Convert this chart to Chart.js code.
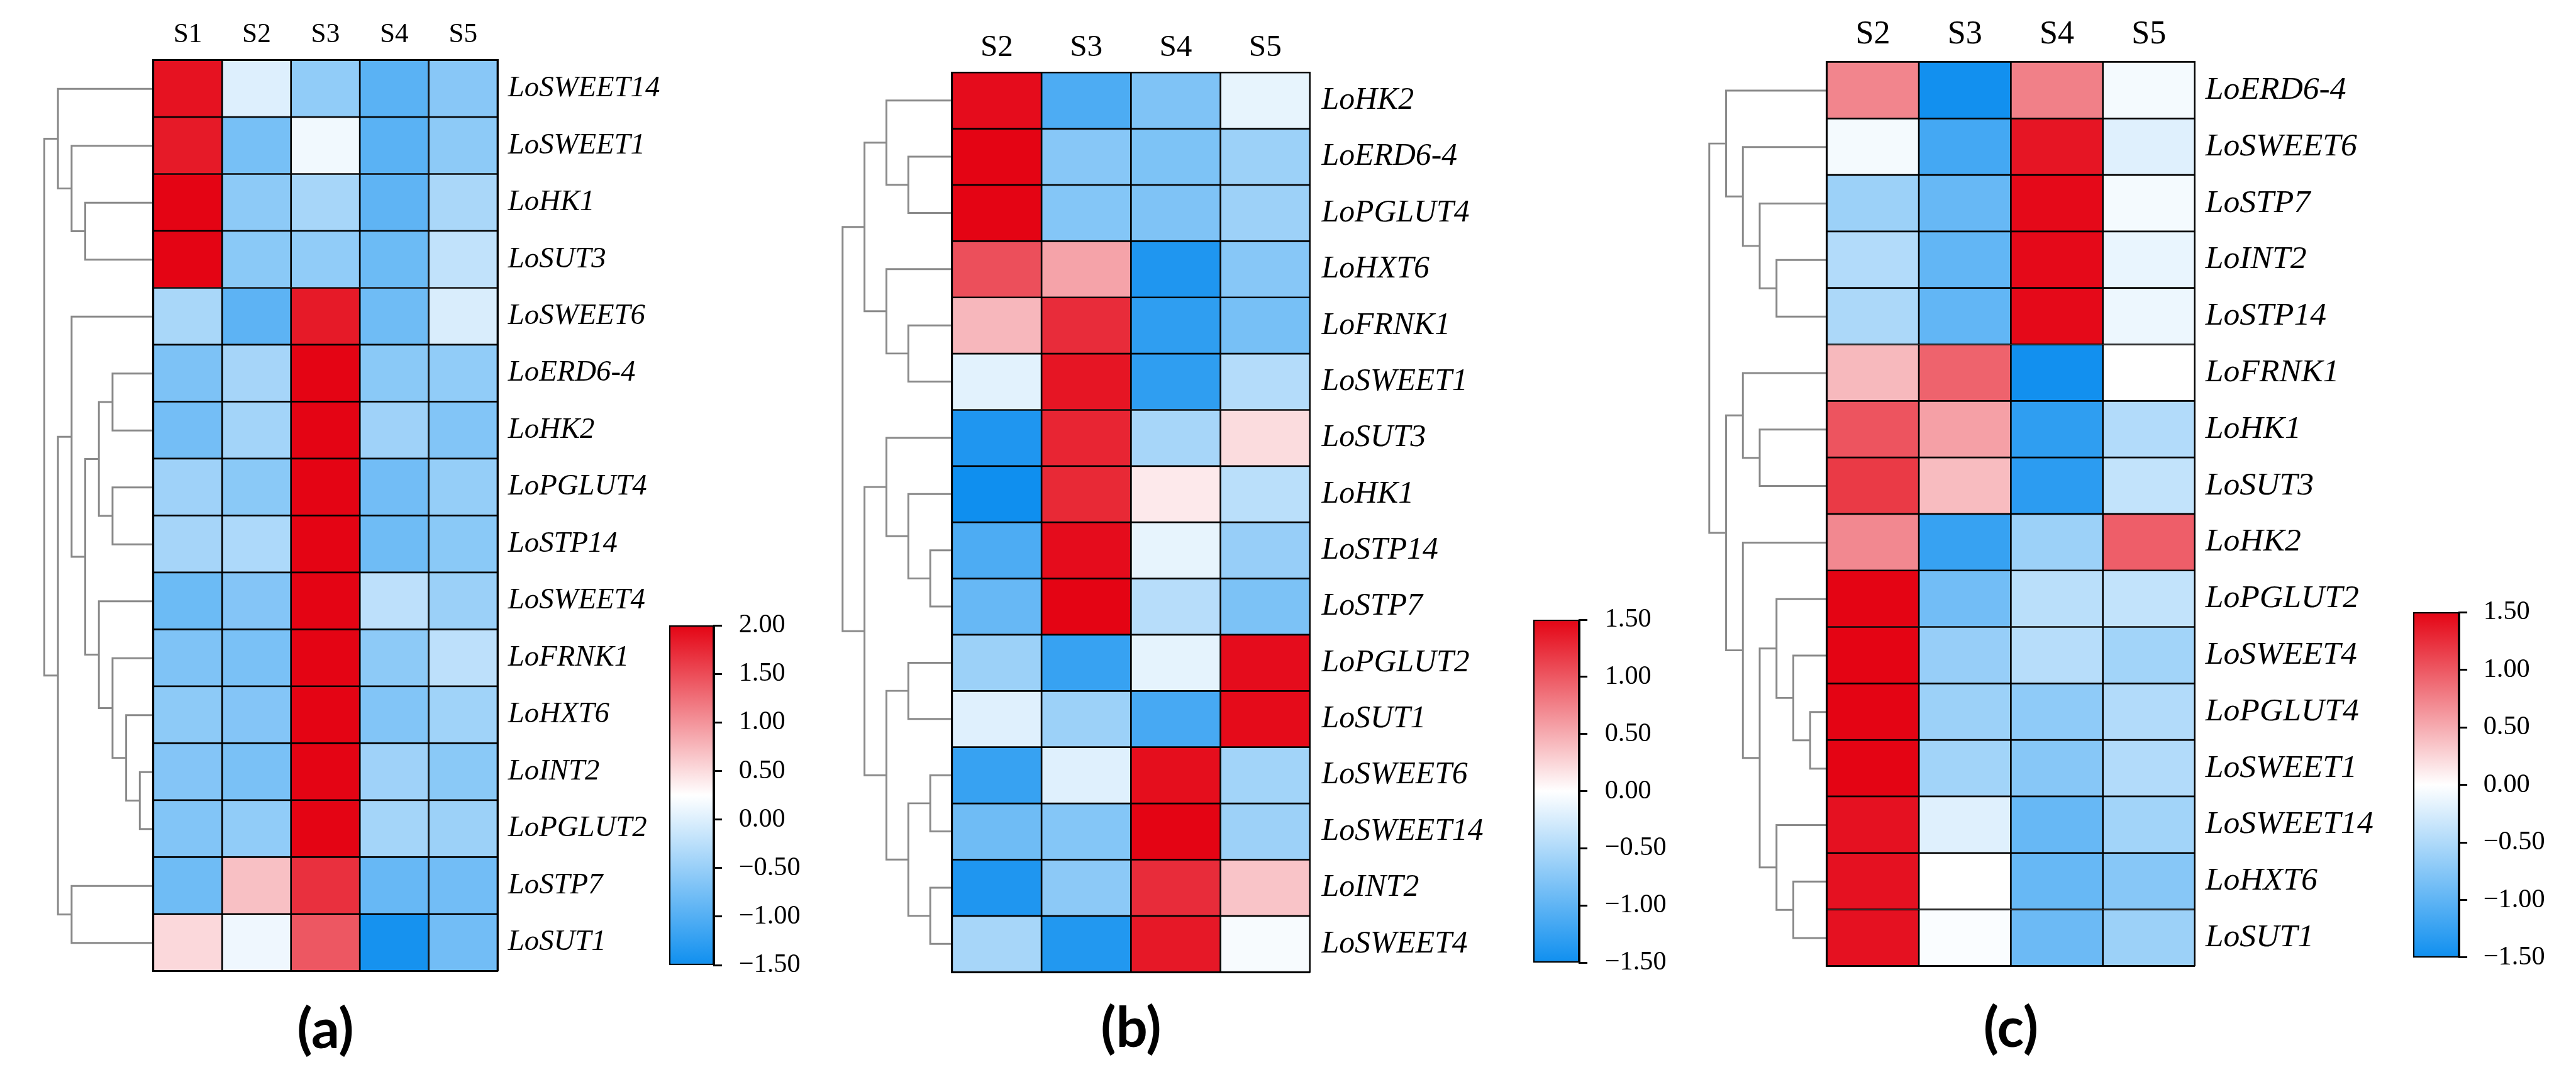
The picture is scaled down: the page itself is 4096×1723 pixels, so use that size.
<!DOCTYPE html>
<html>
<head>
<meta charset="utf-8">
<script src="https://cdn.jsdelivr.net/npm/chart.js@4.4.1/dist/chart.umd.min.js"></script>
<style>
  html, body { margin: 0; padding: 0; background: #fff; }
  #fig { position: relative; width: 4096px; height: 1723px; overflow: hidden; background: #fff; }
  #fig canvas { position: absolute; }
</style>
</head>
<body>
<div id="fig"></div>
<script>
// ---------- panel (a) ----------
var samplesA = ['S1', 'S2', 'S3', 'S4', 'S5'];
var genesA = ['LoSWEET14', 'LoSWEET1', 'LoHK1', 'LoSUT3', 'LoSWEET6', 'LoERD6-4', 'LoHK2', 'LoPGLUT4',
              'LoSTP14', 'LoSWEET4', 'LoFRNK1', 'LoHXT6', 'LoINT2', 'LoPGLUT2', 'LoSTP7', 'LoSUT1'];
var valuesA = [
    [1.90, 0.00, -0.55, -0.95, -0.62],
    [1.85, -0.74, 0.15, -0.95, -0.58],
    [2.00, -0.58, -0.39, -0.92, -0.37],
    [2.00, -0.60, -0.55, -0.82, -0.20],
    [-0.38, -0.93, 1.85, -0.80, -0.03],
    [-0.70, -0.40, 2.00, -0.60, -0.55],
    [-0.76, -0.42, 2.00, -0.45, -0.66],
    [-0.45, -0.60, 2.00, -0.78, -0.52],
    [-0.40, -0.35, 2.00, -0.80, -0.60],
    [-0.82, -0.65, 2.00, -0.23, -0.48],
    [-0.68, -0.72, 2.00, -0.58, -0.23],
    [-0.58, -0.65, 2.00, -0.66, -0.44],
    [-0.65, -0.72, 2.00, -0.45, -0.60],
    [-0.66, -0.55, 2.00, -0.41, -0.47],
    [-0.80, 0.69, 1.69, -0.86, -0.78],
    [0.52, 0.13, 1.42, -1.45, -0.78]
];
// dendrogram merges: [node, node, height level]; new nodes numbered from 16
var treeA = [[2, 3, 5], [1, 16, 6], [0, 17, 7], [5, 6, 3], [7, 8, 3], [19, 20, 4], [12, 13, 1],
             [11, 22, 2], [10, 23, 3], [9, 24, 4], [21, 25, 5], [4, 26, 6], [14, 15, 6], [27, 28, 7], [18, 29, 8]];
var rangeA = [-1.5, 2.0];

// ---------- panel (b) ----------
var samplesB = ['S2', 'S3', 'S4', 'S5'];
var genesB = ['LoHK2', 'LoERD6-4', 'LoPGLUT4', 'LoHXT6', 'LoFRNK1', 'LoSWEET1', 'LoSUT3', 'LoHK1',
              'LoSTP14', 'LoSTP7', 'LoPGLUT2', 'LoSUT1', 'LoSWEET6', 'LoSWEET14', 'LoINT2', 'LoSWEET4'];
var valuesB = [
    [1.45, -1.11, -0.80, -0.15],
    [1.50, -0.75, -0.81, -0.62],
    [1.50, -0.77, -0.80, -0.61],
    [1.05, 0.55, -1.40, -0.75],
    [0.43, 1.26, -1.30, -0.85],
    [-0.18, 1.40, -1.30, -0.47],
    [-1.40, 1.30, -0.55, 0.21],
    [-1.50, 1.28, 0.13, -0.43],
    [-1.11, 1.45, -0.15, -0.65],
    [-0.95, 1.50, -0.45, -0.82],
    [-0.62, -1.25, -0.16, 1.45],
    [-0.20, -0.62, -1.15, 1.46],
    [-1.25, -0.20, 1.44, -0.58],
    [-0.90, -0.77, 1.50, -0.61],
    [-1.40, -0.72, 1.26, 0.35],
    [-0.55, -1.38, 1.38, -0.05]
];
var treeB = [[1, 2, 2], [0, 16, 3], [4, 5, 2], [3, 18, 3], [17, 19, 4], [8, 9, 1], [7, 21, 2], [6, 22, 3],
             [10, 11, 2], [12, 13, 1], [14, 15, 1], [25, 26, 2], [24, 27, 3], [23, 28, 4], [20, 29, 5]];
var rangeB = [-1.5, 1.5];

// ---------- panel (c) ----------
var samplesC = ['S2', 'S3', 'S4', 'S5'];
var genesC = ['LoERD6-4', 'LoSWEET6', 'LoSTP7', 'LoINT2', 'LoSTP14', 'LoFRNK1', 'LoHK1', 'LoSUT3',
              'LoHK2', 'LoPGLUT2', 'LoSWEET4', 'LoPGLUT4', 'LoSWEET1', 'LoSWEET14', 'LoHXT6', 'LoSUT1'];
var valuesC = [
    [0.73, -1.48, 0.76, -0.07],
    [-0.07, -1.17, 1.40, -0.20],
    [-0.62, -0.95, 1.47, -0.07],
    [-0.48, -0.98, 1.47, -0.14],
    [-0.52, -0.98, 1.47, -0.11],
    [0.42, 0.93, -1.48, 0.00],
    [1.02, 0.57, -1.30, -0.48],
    [1.18, 0.40, -1.32, -0.38],
    [0.71, -1.25, -0.62, 0.96],
    [1.50, -0.88, -0.43, -0.38],
    [1.50, -0.65, -0.45, -0.58],
    [1.50, -0.62, -0.70, -0.48],
    [1.50, -0.58, -0.75, -0.48],
    [1.42, -0.20, -0.95, -0.58],
    [1.42, 0.00, -0.95, -0.75],
    [1.42, -0.03, -0.92, -0.62]
];
var treeC = [[3, 4, 3], [2, 16, 4], [1, 17, 5], [0, 18, 6], [6, 7, 4], [5, 20, 5], [11, 12, 1], [10, 22, 2],
             [9, 23, 3], [14, 15, 2], [13, 25, 3], [24, 26, 4], [8, 27, 5], [21, 28, 6], [19, 29, 7]];
var rangeC = [-1.5, 1.5];

var tags = ['(a)', '(b)', '(c)'];

// ---------- layout (reference pixels, scaled by S) ----------
var S = 0.985;
var panels = [
    { samples: samplesA, genes: genesA, values: valuesA, tree: treeA, range: rangeA, tag: tags[0],
      L: 248, R: 803, T: 97, B: 1567, canvasL: 238, canvasR: 1070, dendroL: 60, step: 22.04,
      colFont: 44, colPad: 14, rowFont: 47.5, rowPad: 17, tagDy: 96,
      cbar: { L: 1080, R: 1152, T: 996, B: 1570, pad: 27 } },
    { samples: samplesB, genes: genesB, values: valuesB, tree: treeB, range: rangeB, tag: tags[1],
      L: 1537, R: 2115, T: 117, B: 1569, canvasL: 1527, canvasR: 2440, dendroL: 1345, step: 35.4,
      colFont: 50, colPad: 10, rowFont: 50.5, rowPad: 19, tagDy: 92,
      cbar: { L: 2475, R: 2549, T: 986, B: 1567, pad: 28 } },
    { samples: samplesC, genes: genesC, values: valuesC, tree: treeC, range: rangeC, tag: tags[2],
      L: 2949, R: 3543, T: 100, B: 1559, canvasL: 2939, canvasR: 3870, dendroL: 2745, step: 27.14,
      colFont: 53, colPad: 12, rowFont: 52.5, rowPad: 17, tagDy: 102,
      cbar: { L: 3895, R: 3969, T: 976, B: 1557, pad: 26 } }
];
var TAG_FONT = 90;
var CBAR_FONT = 43;

Chart.defaults.font.family = "'Liberation Serif', 'Times New Roman', serif";
Chart.defaults.color = '#000';

var BLUE = [15, 143, 239], WHITE = [255, 255, 255], RED = [228, 4, 20];
function heatColor(v, range) {
    var t = (v - range[0]) / (range[1] - range[0]);
    t = Math.max(0, Math.min(1, t));
    var a = t < 0.5 ? BLUE : WHITE, b = t < 0.5 ? WHITE : RED;
    var f = t < 0.5 ? t / 0.5 : (t - 0.5) / 0.5;
    return 'rgb(' + a.map(function (c, i) { return Math.round(c + (b[i] - c) * f); }).join(',') + ')';
}

var fig = document.getElementById('fig');
function makeCanvas(x, y, w, h) {
    var c = document.createElement('canvas');
    var W = Math.round(w * S), H = Math.round(h * S);
    c.width = W; c.height = H;
    c.style.left = Math.round(x * S) + 'px';
    c.style.top = Math.round(y * S) + 'px';
    c.style.width = W + 'px';
    c.style.height = H + 'px';
    fig.appendChild(c);
    return c;
}

var frame = { display: true, color: '#000', width: 3 * S };
var noGrid = { display: false, drawTicks: false };
var quiet = { legend: { display: false }, tooltip: { enabled: false } };

function drawHeatmap(p) {
    var bottomH = (p.tagDy + 0.6 * TAG_FONT) * S;
    var c = makeCanvas(p.canvasL, 0, p.canvasR - p.canvasL, p.B + bottomH / S);
    var datasets = p.samples.map(function (s, j) {
        return {
            label: s,
            data: p.genes.map(function () { return [j, j + 1]; }),
            backgroundColor: p.values.map(function (row) { return heatColor(row[j], p.range); }),
            borderColor: '#000',
            borderWidth: 1.7 * S,
            borderSkipped: false,
            barPercentage: 1,
            categoryPercentage: 1,
            grouped: false
        };
    });
    new Chart(c, {
        type: 'bar',
        data: { labels: p.genes, datasets: datasets },
        options: {
            indexAxis: 'y',
            responsive: false,
            animation: false,
            devicePixelRatio: 1,
            layout: { padding: 0 },
            plugins: quiet,
            scales: {
                x: {
                    type: 'linear', position: 'bottom', min: 0, max: p.samples.length,
                    grid: noGrid, ticks: { display: false }, border: frame,
                    title: { display: true, text: p.tag, color: '#000', padding: 0,
                             font: { family: 'Lato', weight: 'bold', size: TAG_FONT * S } },
                    afterFit: function (a) { a.height = bottomH; }
                },
                xt: {
                    type: 'category', position: 'top', labels: p.samples, offset: true,
                    grid: noGrid, border: frame,
                    ticks: { font: { size: p.colFont * S }, padding: p.colPad * S, color: '#000' },
                    afterFit: function (a) { a.height = p.T * S; }
                },
                y: {
                    type: 'category', position: 'right', offset: true,
                    grid: noGrid, border: frame,
                    ticks: { font: { style: 'italic', size: p.rowFont * S }, padding: p.rowPad * S,
                             color: '#000', autoSkip: false },
                    afterFit: function (a) { a.width = (p.canvasR - p.R) * S; }
                },
                yl: {
                    type: 'linear', position: 'left',
                    grid: noGrid, ticks: { display: false }, border: frame,
                    afterFit: function (a) { a.width = (p.L - p.canvasL) * S; }
                }
            }
        }
    });
}

function drawTree(p) {
    var c = makeCanvas(p.dendroL, p.T, p.L - p.dendroL, p.B - p.T);
    var nodes = p.genes.map(function (g, i) { return { h: 0, y: i + 0.5 }; });
    var datasets = [];
    p.tree.forEach(function (m) {
        var a = nodes[m[0]], b = nodes[m[1]], h = m[2];
        datasets.push({
            data: [{ x: a.h, y: a.y }, { x: h, y: a.y }, { x: h, y: b.y }, { x: b.h, y: b.y }],
            showLine: true,
            borderColor: '#8a8a8a',
            borderWidth: 3 * S,
            pointRadius: 0,
            tension: 0,
            clip: false
        });
        nodes.push({ h: h, y: (a.y + b.y) / 2 });
    });
    new Chart(c, {
        type: 'scatter',
        data: { datasets: datasets },
        options: {
            responsive: false,
            animation: false,
            devicePixelRatio: 1,
            layout: { padding: 0 },
            plugins: quiet,
            scales: {
                x: { type: 'linear', display: false, reverse: true, min: 0, max: (p.L - p.dendroL) / p.step },
                y: { type: 'linear', display: false, reverse: true, min: 0, max: p.genes.length }
            }
        }
    });
}

function fmt(v) {
    var r = Math.round(v * 100) / 100;
    return (r < 0 ? '\u2212' : '') + Math.abs(r).toFixed(2);
}

function drawColorbar(p) {
    var cb = p.cbar, padV = 40, axisW = 150, padL = 2;
    var c = makeCanvas(cb.L - padL, cb.T - padV, (cb.R - cb.L) + padL + axisW, (cb.B - cb.T) + 2 * padV);
    new Chart(c, {
        type: 'bar',
        data: {
            labels: [''],
            datasets: [{
                data: [p.range],
                backgroundColor: function (ctx) {
                    var chart = ctx.chart;
                    if (!chart.chartArea) return '#fff';
                    var y = chart.scales.y;
                    var g = chart.ctx.createLinearGradient(0, y.getPixelForValue(p.range[0]), 0, y.getPixelForValue(p.range[1]));
                    g.addColorStop(0, 'rgb(' + BLUE.join(',') + ')');
                    g.addColorStop(0.5, 'rgb(' + WHITE.join(',') + ')');
                    g.addColorStop(1, 'rgb(' + RED.join(',') + ')');
                    return g;
                },
                borderColor: '#000',
                borderWidth: 2.5 * S,
                borderSkipped: false,
                barPercentage: 1,
                categoryPercentage: 1
            }]
        },
        options: {
            responsive: false,
            animation: false,
            devicePixelRatio: 1,
            layout: { padding: { top: padV * S, bottom: padV * S, left: padL * S, right: 0 } },
            plugins: quiet,
            scales: {
                x: { display: false },
                y: {
                    position: 'right', min: p.range[0], max: p.range[1],
                    ticks: { stepSize: 0.5, callback: fmt, font: { size: CBAR_FONT * S }, color: '#000', padding: cb.pad * S },
                    grid: { drawOnChartArea: false, drawTicks: true, tickLength: 13 * S, color: '#000', lineWidth: 3 * S },
                    border: frame,
                    afterFit: function (a) { a.width = axisW * S; }
                }
            }
        }
    });
}

panels.forEach(function (p) {
    drawTree(p);
    drawHeatmap(p);
    drawColorbar(p);
});
</script>
</body>
</html>
